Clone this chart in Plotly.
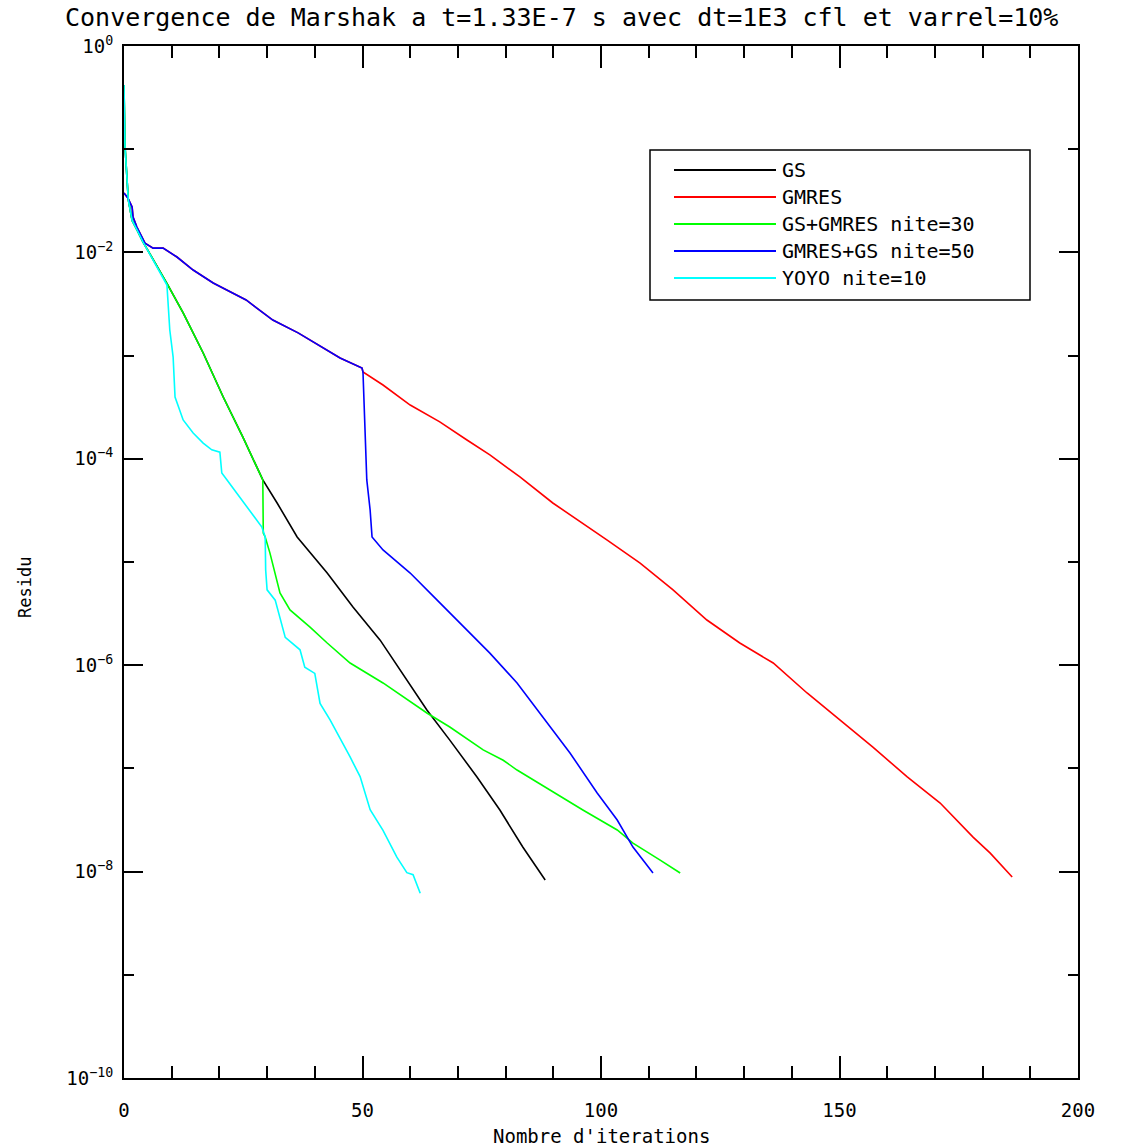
import plotly.graph_objects as go

# ---------------- data ----------------
names = ["GS", "GMRES", "GS+GMRES nite=30", "GMRES+GS nite=50", "YOYO nite=10"]
colors = ["#000000", "#ff0000", "#00ff00", "#0000ff", "#00ffff"]

gs_x = [0, 0.2, 0.9, 1.7, 2.7, 4.0, 9.2, 12.4, 16.6, 20.8, 24.9, 28.9, 29.1,
        32.1, 36.3, 42.6, 48.0, 53.7, 59.3, 63.5, 68.3, 74.0, 78.8, 83.6, 88.3]
gs_y = [0.419, 0.110, 0.0324, 0.0204, 0.0166, 0.0126, 4.83e-3, 2.59e-3, 1.06e-3,
        3.97e-4, 1.63e-4, 6.67e-5, 6.24e-5,
        3.73e-5, 1.75e-5, 7.82e-6, 3.66e-6, 1.75e-6, 7.19e-7, 3.68e-7, 1.88e-7,
        8.26e-8, 3.95e-8, 1.73e-8, 8.30e-9]

gmres_x = [0, 0.8, 1.7, 1.9, 2.7, 4.4, 6.1, 8.2, 11.1, 14.5, 18.7, 25.6, 31.2,
           36.5, 45.3, 49.9, 50.1,
           54.3, 60.0, 66.2, 71.9, 76.7, 83.0, 89.9, 101.3, 108.2, 115.1, 122.2,
           129.1, 136.1, 143.2, 150.1, 157.0, 164.2, 171.1, 178.0, 181.6, 186.2]
gmres_y = [3.77e-2, 3.37e-2, 2.75e-2, 2.20e-2, 1.76e-2, 1.23e-2, 1.10e-2, 1.10e-2,
           9.02e-3, 6.75e-3, 5.05e-3, 3.46e-3, 2.21e-3, 1.66e-3, 9.48e-4, 7.59e-4,
           6.93e-4,
           5.19e-4, 3.32e-4, 2.28e-4, 1.52e-4, 1.09e-4, 6.67e-5, 3.73e-5, 1.63e-5,
           9.77e-6, 5.36e-6, 2.74e-6, 1.64e-6, 1.05e-6, 5.38e-7, 2.94e-7, 1.61e-7,
           8.26e-8, 4.62e-8, 2.16e-8, 1.51e-8, 8.87e-9]

gsgm_x = [0, 0.2, 0.9, 1.7, 2.7, 4.0, 9.2, 12.4, 16.6, 20.8, 24.9, 28.9, 29.1,
          29.2, 29.6, 30.6, 32.7, 34.8, 39.0, 42.6, 47.4, 54.3, 63.5, 68.3, 75.3,
          79.5, 82.4, 89.3, 96.2, 103.4, 106.7, 112.4, 116.6]
gsgm_y = [0.419, 0.110, 0.0324, 0.0204, 0.0166, 0.0126, 4.83e-3, 2.59e-3, 1.06e-3,
          3.97e-4, 1.63e-4, 6.67e-5, 6.24e-5, 1.91e-5, 1.75e-5, 1.22e-5, 5.01e-6,
          3.43e-6, 2.34e-6, 1.64e-6, 1.05e-6, 6.73e-7, 3.44e-7, 2.52e-7, 1.51e-7,
          1.20e-7, 9.64e-8, 6.18e-8, 3.95e-8, 2.53e-8, 1.89e-8, 1.29e-8, 9.70e-9]

gmgs_x = [0, 0.8, 1.7, 1.9, 2.7, 4.4, 6.1, 8.2, 11.1, 14.5, 18.7, 25.6, 31.2,
          36.5, 45.3, 49.9, 50.1, 50.5, 50.9, 51.6, 52.0, 54.3, 60.0, 65.6, 71.9,
          76.7, 82.4, 87.8, 93.5, 99.2, 103.4, 106.7, 110.9]
gmgs_y = [3.77e-2, 3.37e-2, 2.75e-2, 2.20e-2, 1.76e-2, 1.23e-2, 1.10e-2, 1.10e-2,
          9.02e-3, 6.75e-3, 5.05e-3, 3.46e-3, 2.21e-3, 1.66e-3, 9.48e-4, 7.59e-4,
          6.93e-4, 2.03e-4, 6.24e-5, 3.19e-5, 1.75e-5, 1.31e-5, 7.82e-6, 4.29e-6,
          2.19e-6, 1.31e-6, 6.73e-7, 3.15e-7, 1.41e-7, 5.78e-8, 3.16e-8, 1.73e-8,
          9.70e-9]

yoyo_x = [0, 0.2, 0.9, 1.7, 2.7, 4.0, 9.0, 9.6, 10.3, 10.7, 12.4, 14.5, 16.6,
          18.4, 20.1, 20.5, 21.6, 25.8, 28.9, 29.6, 29.7, 30.0, 31.7, 33.8, 36.9,
          37.9, 40.0, 41.1, 43.2, 47.4, 49.5, 51.6, 54.3, 57.2, 59.3, 60.6, 62.1]
yoyo_y = [0.419, 0.110, 0.0324, 0.0204, 0.0166, 0.0126, 4.83e-3, 1.77e-3, 9.68e-4,
          3.97e-4, 2.38e-4, 1.78e-4, 1.42e-4, 1.22e-4, 1.16e-4, 7.28e-5, 6.24e-5,
          3.41e-5, 2.18e-5, 1.75e-5, 8.36e-6, 5.37e-6, 4.27e-6, 1.86e-6, 1.41e-6,
          9.55e-7, 8.32e-7, 4.27e-7, 2.95e-7, 1.29e-7, 8.32e-8, 3.98e-8, 2.51e-8,
          1.38e-8, 9.77e-9, 9.33e-9, 6.17e-9]

series_x = [gs_x, gmres_x, gsgm_x, gmgs_x, yoyo_x]
series_y = [gs_y, gmres_y, gsgm_y, gmgs_y, yoyo_y]

x_ticks = [0, 50, 100, 150, 200]
x_minor = [10, 20, 30, 40, 60, 70, 80, 90, 110, 120, 130, 140, 160, 170, 180, 190]
y_ticks = [1, 1e-2, 1e-4, 1e-6, 1e-8, 1e-10]
y_ticktext = ["10<sup>0</sup>", "10<sup>−2</sup>", "10<sup>−4</sup>",
              "10<sup>−6</sup>", "10<sup>−8</sup>", "10<sup>−10</sup>"]
y_minor = [1e-1, 1e-3, 1e-5, 1e-7, 1e-9]

title = "Convergence de Marshak a t=1.33E-7 s avec dt=1E3 cfl et varrel=10%"
x_title = "Nombre d'iterations"
y_title = "Residu"

FONT = "DejaVu Sans Mono"

# ---------------- figure ----------------
fig = go.Figure()
for nm, col, xs, ys in zip(names, colors, series_x, series_y):
    fig.add_trace(go.Scatter(x=xs, y=ys, mode="lines", name=nm,
                             line=dict(color=col, width=1.6),
                             showlegend=False))

W, H = 1130, 1148
L, R, T, B = 124, 52, 46, 70
pw, ph = W - L - R, H - T - B

def px_x(p):
    return (p - L) / pw

def px_y(p):
    return (H - B - p) / ph

# custom legend (box, sample lines, labels)
fig.add_shape(type="rect", xref="paper", yref="paper",
              x0=px_x(650), x1=px_x(1030), y0=px_y(300), y1=px_y(150),
              line=dict(color="black", width=1.5), fillcolor="white", layer="above")
for i, (nm, col) in enumerate(zip(names, colors)):
    yy = px_y(170 + 27 * i)
    fig.add_shape(type="line", xref="paper", yref="paper",
                  x0=px_x(674), x1=px_x(776), y0=yy, y1=yy,
                  line=dict(color=col, width=1.8), layer="above")
    fig.add_annotation(xref="paper", yref="paper", x=px_x(780), y=yy,
                       text=nm, showarrow=False, xanchor="left", yanchor="middle",
                       font=dict(family=FONT, size=20, color="black"))

# axis titles as annotations for precise placement
fig.add_annotation(xref="paper", yref="paper", x=0.5, y=px_y(1136),
                   text=x_title, showarrow=False, xanchor="center", yanchor="middle",
                   font=dict(family=FONT, size=19, color="black"))
fig.add_annotation(xref="paper", yref="paper", x=px_x(25), y=px_y(588),
                   text=y_title, showarrow=False, textangle=-90,
                   xanchor="center", yanchor="middle",
                   font=dict(family=FONT, size=17, color="black"))

axis_common = dict(showline=True, linecolor="black", linewidth=2, mirror="allticks",
                   ticks="inside", tickcolor="black", tickwidth=1.5,
                   showgrid=False, zeroline=False,
                   tickfont=dict(family=FONT, size=19, color="black"))

fig.update_xaxes(range=[0, 200], tickmode="array", tickvals=x_ticks,
                 ticklen=22, ticklabelstandoff=14,
                 minor=dict(tickmode="array", tickvals=x_minor, ticks="inside",
                            ticklen=12, tickwidth=1.5, tickcolor="black", showgrid=False),
                 **axis_common)
fig.update_yaxes(type="log", range=[-10, 0], tickmode="array", tickvals=y_ticks,
                 ticktext=y_ticktext, ticklen=19, ticklabelstandoff=5,
                 minor=dict(tickmode="array", tickvals=y_minor, ticks="inside",
                            ticklen=10, tickwidth=1.5, tickcolor="black", showgrid=False),
                 **axis_common)

fig.update_layout(
    width=W, height=H,
    margin=dict(l=L, r=R, t=T, b=B, pad=0),
    paper_bgcolor="white", plot_bgcolor="white",
    title=dict(text=title, x=65 / W, xanchor="left", xref="container",
               y=1 - 17 / H, yanchor="middle", yref="container",
               font=dict(family=FONT, size=25, color="black")),
    showlegend=False,
)

fig.write_html("out.html")
